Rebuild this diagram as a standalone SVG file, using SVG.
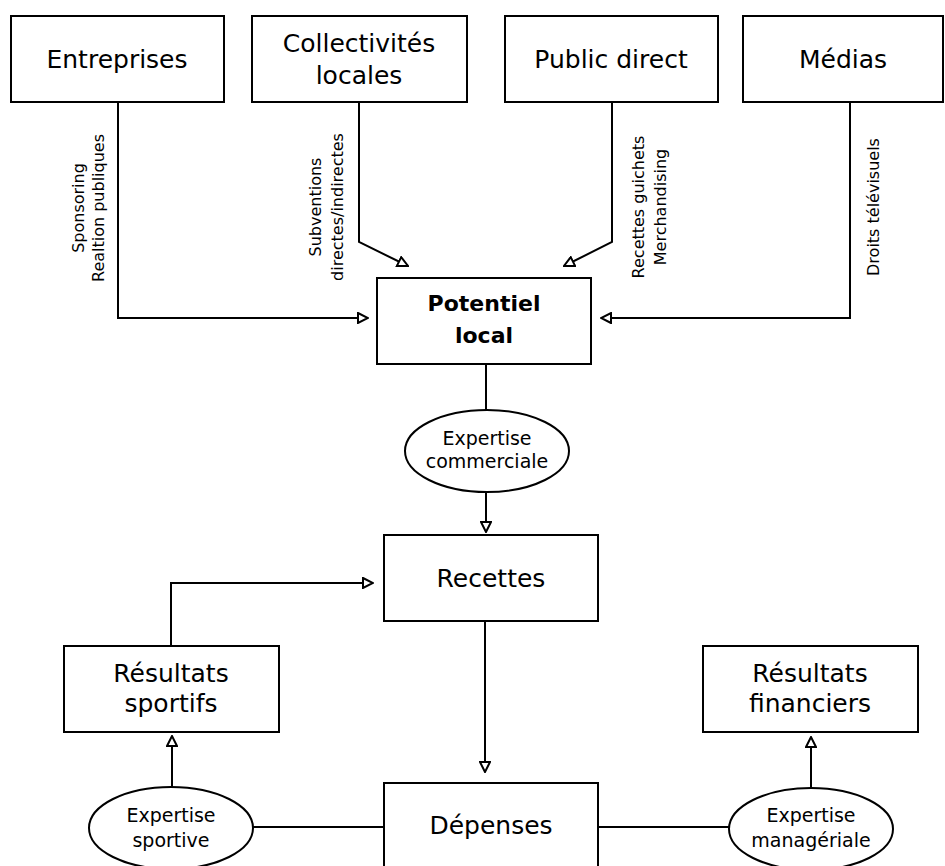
<svg xmlns="http://www.w3.org/2000/svg" width="945" height="866" viewBox="0 0 945 866">
<defs>
<style>
.box{fill:#fff;stroke:#000;stroke-width:2}
.t{font-family:"DejaVu Sans","Liberation Sans",sans-serif;fill:#000;text-anchor:middle}
.big{font-size:25px}
.bold{font-size:22px;font-weight:bold}
.mid{font-size:19px}
.sm{font-size:16px}
.c{fill:none;stroke:#000;stroke-width:2}
</style>
<marker id="arr" markerUnits="userSpaceOnUse" viewBox="0 0 12 12" refX="11" refY="6" markerWidth="12" markerHeight="12" orient="auto">
<path d="M1,1 L11,6 L1,11 z" fill="#fff" stroke="#000" stroke-width="2" stroke-linejoin="miter"/>
</marker>
</defs>
<rect width="945" height="866" fill="#fff"/>
<g id="connectors">
<path class="c" d="M118,102 V318 H368" marker-end="url(#arr)"/>
<path class="c" d="M359,102 V242 L408,266" marker-end="url(#arr)"/>
<path class="c" d="M612,102 V242 L564,266" marker-end="url(#arr)"/>
<path class="c" d="M850,102 V318 H601" marker-end="url(#arr)"/>
<path class="c" d="M486,364 V410"/>
<path class="c" d="M486,493 V532" marker-end="url(#arr)"/>
<path class="c" d="M485,621 V772" marker-end="url(#arr)"/>
<path class="c" d="M171,646 V583 H373" marker-end="url(#arr)"/>
<path class="c" d="M172,787 V736" marker-end="url(#arr)"/>
<path class="c" d="M253,827 H384"/>
<path class="c" d="M598,827 H729"/>
<path class="c" d="M811,788 V737" marker-end="url(#arr)"/>
<text class="t sm" transform="translate(78,208) rotate(-90)" dy="0.35em">Sponsoring</text>
<text class="t sm" transform="translate(98,208) rotate(-90)" dy="0.35em">Realtion publiques</text>
<text class="t sm" transform="translate(315,207) rotate(-90)" dy="0.35em">Subventions</text>
<text class="t sm" transform="translate(337,207) rotate(-90)" dy="0.35em">directes/indirectes</text>
<text class="t sm" transform="translate(638,207) rotate(-90)" dy="0.35em">Recettes guichets</text>
<text class="t sm" transform="translate(660,207) rotate(-90)" dy="0.35em">Merchandising</text>
<text class="t sm" transform="translate(873,207) rotate(-90)" dy="0.35em">Droits télévisuels</text>
</g>
<g id="entreprises">
<rect class="box" x="11" y="16" width="213" height="86"/>
<text class="t big" x="117" y="68">Entreprises</text>
</g>
<g id="collectivites">
<rect class="box" x="252" y="16" width="215" height="86"/>
<text class="t big" x="359" y="52">Collectivités</text>
<text class="t big" x="359" y="84">locales</text>
</g>
<g id="public">
<rect class="box" x="505" y="16" width="213" height="86"/>
<text class="t big" x="611" y="68">Public direct</text>
</g>
<g id="medias">
<rect class="box" x="743" y="16" width="200" height="86"/>
<text class="t big" x="843" y="68">Médias</text>
</g>
<g id="potentiel">
<rect class="box" x="377" y="278" width="214" height="86"/>
<text class="t bold" x="484" y="311">Potentiel</text>
<text class="t bold" x="484" y="343">local</text>
</g>
<g id="expertise-commerciale">
<ellipse class="box" cx="487" cy="451" rx="82" ry="41"/>
<text class="t mid" x="487" y="445">Expertise</text>
<text class="t mid" x="487" y="468">commerciale</text>
</g>
<g id="recettes">
<rect class="box" x="384" y="535" width="214" height="86"/>
<text class="t big" x="491" y="587">Recettes</text>
</g>
<g id="resultats-sportifs">
<rect class="box" x="64" y="646" width="215" height="86"/>
<text class="t big" x="171" y="682">Résultats</text>
<text class="t big" x="171" y="712">sportifs</text>
</g>
<g id="resultats-financiers">
<rect class="box" x="703" y="646" width="215" height="86"/>
<text class="t big" x="810" y="682">Résultats</text>
<text class="t big" x="810" y="712">financiers</text>
</g>
<g id="depenses">
<rect class="box" x="384" y="783" width="214" height="86"/>
<text class="t big" x="491" y="834">Dépenses</text>
</g>
<g id="expertise-sportive">
<ellipse class="box" cx="171" cy="828" rx="82" ry="41"/>
<text class="t mid" x="171" y="822">Expertise</text>
<text class="t mid" x="171" y="847">sportive</text>
</g>
<g id="expertise-manageriale">
<ellipse class="box" cx="811" cy="829" rx="82" ry="41"/>
<text class="t mid" x="811" y="822">Expertise</text>
<text class="t mid" x="811" y="847">managériale</text>
</g>
</svg>
